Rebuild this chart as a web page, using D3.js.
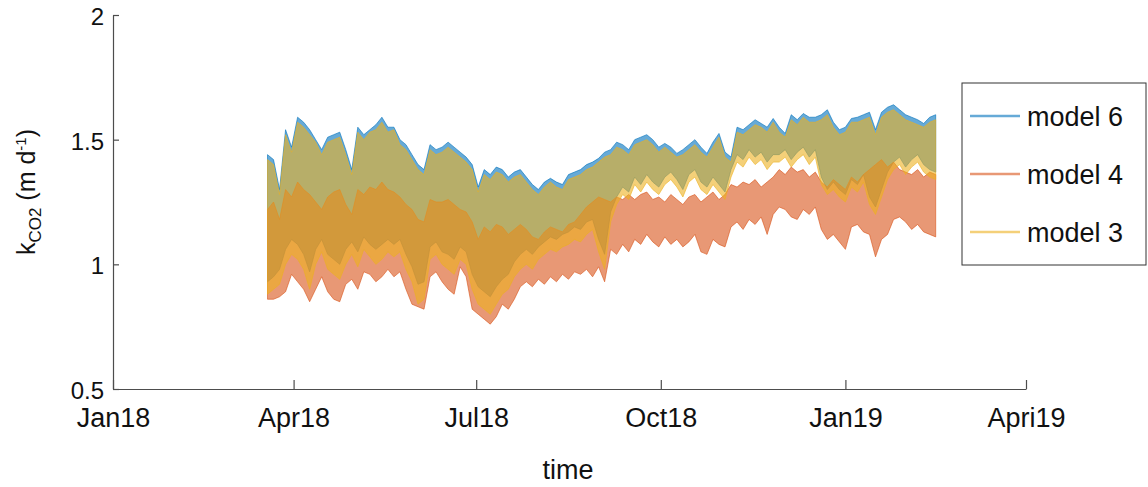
<!DOCTYPE html>
<html>
<head>
<meta charset="utf-8">
<title>kCO2 models</title>
<script src="https://d3js.org/d3.v7.min.js"></script>
<style>
  body { margin: 0; background: #fff; }
  text { font-family: "Liberation Sans", Arial, sans-serif; fill: #111; }
</style>
</head>
<body>
<div id="chart"></div>
<script>
// values, one point every 3 days from 19 Mar 2018
const startDate = new Date(2018, 2, 19);
const stepDays = 3;

// model 6 (blue)
const m6hi = [1.44,1.42,1.30,1.54,1.47,1.59,1.57,1.54,1.50,1.46,1.51,1.52,1.53,1.46,1.38,1.55,1.52,1.54,1.56,1.59,1.55,1.55,1.50,1.48,1.44,1.40,1.38,1.48,1.46,
  1.47,1.49,1.47,1.45,1.43,1.40,1.31,1.38,1.36,1.39,1.38,1.35,1.37,1.38,1.35,1.32,1.30,1.33,1.345,1.33,1.32,1.36,1.37,1.38,1.40,1.41,1.425,1.45,
  1.46,1.49,1.48,1.46,1.50,1.51,1.52,1.50,1.47,1.485,1.47,1.445,1.46,1.48,1.50,1.47,1.445,1.49,1.525,1.45,1.43,1.55,1.54,1.56,1.58,1.565,1.55,1.585,
  1.55,1.525,1.60,1.58,1.605,1.59,1.59,1.60,1.62,1.57,1.54,1.55,1.585,1.59,1.60,1.61,1.54,1.61,1.63,1.64,1.62,1.60,1.59,1.58,1.565,1.59,1.60];
const m6lo = [0.93,0.95,0.98,1.06,1.10,1.08,1.04,0.97,1.06,1.10,1.04,1.02,1.00,1.06,1.09,1.05,1.11,1.08,1.06,1.08,1.10,1.08,1.10,1.04,0.99,0.92,0.93,1.07,1.09,
  1.05,1.04,1.02,1.07,1.05,0.96,0.91,0.89,0.87,0.91,0.94,0.96,1.01,1.04,1.06,1.04,1.07,1.09,1.11,1.10,1.12,1.13,1.15,1.14,1.17,1.18,1.10,1.04,
  1.21,1.27,1.31,1.29,1.35,1.32,1.36,1.33,1.31,1.35,1.37,1.34,1.30,1.36,1.38,1.33,1.31,1.35,1.32,1.29,1.38,1.44,1.42,1.46,1.43,1.45,1.41,1.44,
  1.44,1.46,1.42,1.45,1.47,1.43,1.46,1.35,1.30,1.33,1.30,1.28,1.34,1.32,1.36,1.27,1.23,1.30,1.37,1.41,1.43,1.39,1.42,1.44,1.40,1.38,1.37];

// model 4 (red)
const m4hi = [1.22,1.25,1.18,1.30,1.27,1.33,1.30,1.28,1.25,1.22,1.27,1.29,1.30,1.24,1.20,1.30,1.28,1.31,1.30,1.33,1.30,1.29,1.27,1.24,1.22,1.18,1.17,1.26,1.25,
  1.25,1.26,1.24,1.22,1.21,1.17,1.10,1.15,1.13,1.16,1.15,1.12,1.14,1.16,1.14,1.11,1.10,1.13,1.15,1.14,1.13,1.16,1.17,1.20,1.23,1.25,1.27,1.26,
  1.25,1.27,1.26,1.28,1.26,1.28,1.29,1.26,1.27,1.25,1.28,1.26,1.24,1.27,1.28,1.25,1.27,1.29,1.26,1.28,1.32,1.31,1.33,1.32,1.34,1.31,1.33,1.35,
  1.38,1.36,1.39,1.37,1.38,1.35,1.37,1.33,1.31,1.34,1.32,1.30,1.35,1.33,1.36,1.38,1.40,1.42,1.39,1.41,1.38,1.37,1.36,1.38,1.35,1.37,1.36];
const m4lo = [0.86,0.86,0.87,0.89,0.96,0.93,0.90,0.85,0.90,0.95,0.89,0.86,0.85,0.92,0.94,0.90,0.97,0.96,0.93,0.95,0.98,0.95,0.97,0.90,0.84,0.83,0.82,0.95,0.97,
  0.93,0.90,0.88,0.99,0.95,0.82,0.80,0.78,0.76,0.79,0.84,0.82,0.86,0.91,0.93,0.91,0.94,0.92,0.95,0.93,0.96,0.94,0.97,0.96,0.98,0.95,0.99,0.93,
  1.06,1.04,1.08,1.05,1.10,1.08,1.12,1.09,1.07,1.11,1.08,1.10,1.07,1.09,1.12,1.05,1.04,1.10,1.08,1.07,1.15,1.17,1.14,1.18,1.16,1.19,1.12,1.20,
  1.23,1.22,1.19,1.18,1.22,1.20,1.23,1.14,1.10,1.12,1.09,1.06,1.15,1.16,1.13,1.12,1.03,1.10,1.12,1.18,1.19,1.17,1.14,1.16,1.13,1.12,1.11];

// model 3 (yellow)
const m3hi = [1.42,1.40,1.28,1.52,1.45,1.57,1.55,1.52,1.49,1.44,1.49,1.50,1.51,1.44,1.36,1.53,1.50,1.53,1.54,1.57,1.53,1.54,1.48,1.46,1.42,1.38,1.36,1.46,1.44,
  1.45,1.47,1.45,1.43,1.41,1.38,1.29,1.36,1.34,1.37,1.36,1.33,1.35,1.36,1.33,1.30,1.28,1.31,1.33,1.31,1.30,1.34,1.35,1.36,1.38,1.39,1.41,1.43,
  1.44,1.47,1.46,1.44,1.48,1.49,1.50,1.48,1.45,1.47,1.45,1.43,1.44,1.46,1.48,1.45,1.43,1.47,1.51,1.43,1.41,1.53,1.52,1.54,1.56,1.55,1.53,1.57,
  1.53,1.51,1.58,1.56,1.59,1.57,1.57,1.58,1.60,1.55,1.52,1.53,1.57,1.57,1.58,1.59,1.52,1.59,1.61,1.62,1.60,1.58,1.57,1.56,1.55,1.57,1.58];
const m3lo = [0.88,0.90,0.92,1.00,1.04,1.02,0.98,0.90,1.00,1.05,0.98,0.96,0.94,1.00,1.04,0.99,1.06,1.03,1.00,1.02,1.05,1.03,1.05,0.98,0.93,0.84,0.86,1.02,1.04,
  1.00,0.98,0.96,1.02,1.00,0.90,0.84,0.82,0.80,0.84,0.88,0.90,0.95,0.98,1.00,0.98,1.02,1.04,1.06,1.05,1.07,1.08,1.10,1.09,1.12,1.14,1.05,0.98,
  1.17,1.24,1.28,1.26,1.32,1.29,1.33,1.30,1.28,1.32,1.34,1.31,1.27,1.33,1.35,1.30,1.28,1.32,1.29,1.26,1.35,1.41,1.39,1.43,1.40,1.42,1.38,1.41,
  1.41,1.43,1.39,1.42,1.44,1.40,1.43,1.32,1.28,1.30,1.27,1.25,1.31,1.29,1.33,1.24,1.20,1.27,1.34,1.38,1.40,1.36,1.39,1.41,1.37,1.35,1.34];

const seriesNames = ["model 6", "model 4", "model 3"];
const seriesColors = ["#0072BD", "#D95319", "#EDB120"];
const seriesHi = [m6hi, m4hi, m3hi];
const seriesLo = [m6lo, m4lo, m3lo];

const xTickDates = [new Date(2018,0,1), new Date(2018,3,1), new Date(2018,6,1), new Date(2018,9,1), new Date(2019,0,1), new Date(2019,3,1)];
const xTickLabels = ["Jan18", "Apr18", "Jul18", "Oct18", "Jan19", "Apri19"];
const yTicks = [0.5, 1, 1.5, 2];

const W = 1148, H = 487;
const svg = d3.select("#chart").append("svg")
    .attr("width", W).attr("height", H);

const x = d3.scaleTime().domain([xTickDates[0], xTickDates[5]]).range([113, 1026]);
const y = d3.scaleLinear().domain([0.5, 2]).range([389, 15]);

const dates = m6hi.map((d, i) => d3.timeDay.offset(startDate, stepDays * i));

// series, drawn in legend order with transparency
seriesNames.forEach((name, s) => {
    const rows = dates.map((d, i) => ({ t: d, hi: seriesHi[s][i], lo: seriesLo[s][i] }));
    const area = d3.area()
        .x(d => x(d.t))
        .y0(d => y(d.lo))
        .y1(d => y(d.hi));
    svg.append("path")
        .attr("d", area(rows))
        .attr("fill", seriesColors[s])
        .attr("fill-opacity", 0.6)
        .attr("stroke", seriesColors[s])
        .attr("stroke-opacity", 0.6)
        .attr("stroke-width", 1);
});

// axes
const xAxis = d3.axisBottom(x)
    .tickValues(xTickDates)
    .tickFormat((d, i) => xTickLabels[i])
    .tickSizeInner(-9).tickSizeOuter(0).tickPadding(19);
const gx = svg.append("g").attr("transform", "translate(0,389)").call(xAxis);

const yAxis = d3.axisLeft(y)
    .tickValues(yTicks)
    .tickFormat(d3.format(""))
    .tickSizeInner(-6).tickSizeOuter(0).tickPadding(9);
const gy = svg.append("g").attr("transform", "translate(113,0)").call(yAxis);

[gx, gy].forEach(g => {
    g.selectAll("path, line").attr("stroke", "#4d4d4d").attr("stroke-width", 1.2);
    g.selectAll("text").attr("fill", "#111");
});
gx.selectAll("text").style("font-size", "27px");
gy.selectAll("text").style("font-size", "24px").attr("dy", "0.39em");

// axis titles
svg.append("text")
    .attr("x", 568).attr("y", 479)
    .attr("text-anchor", "middle")
    .style("font-size", "27px")
    .text("time");

const yl = svg.append("text")
    .attr("transform", "translate(35,192) rotate(-90)")
    .attr("text-anchor", "middle")
    .style("font-size", "25px");
yl.append("tspan").text("k");
yl.append("tspan").attr("dy", 6).style("font-size", "17px").text("CO2");
yl.append("tspan").attr("dy", -6).text(" (m d");
yl.append("tspan").attr("dy", -9).style("font-size", "15px").text("-1");
yl.append("tspan").attr("dy", 9).text(")");

// legend
const lg = svg.append("g");
lg.append("rect")
    .attr("x", 962).attr("y", 83).attr("width", 184).attr("height", 182)
    .attr("fill", "#fff").attr("stroke", "#333").attr("stroke-width", 1);
seriesNames.forEach((name, s) => {
    const yy = 116 + s * 58;
    lg.append("line")
        .attr("x1", 970).attr("x2", 1020).attr("y1", yy).attr("y2", yy)
        .attr("stroke", seriesColors[s]).attr("stroke-opacity", 0.6).attr("stroke-width", 2.5);
    lg.append("text")
        .attr("x", 1027).attr("y", yy + 9.5)
        .style("font-size", "27px")
        .text(name);
});
</script>
</body>
</html>
